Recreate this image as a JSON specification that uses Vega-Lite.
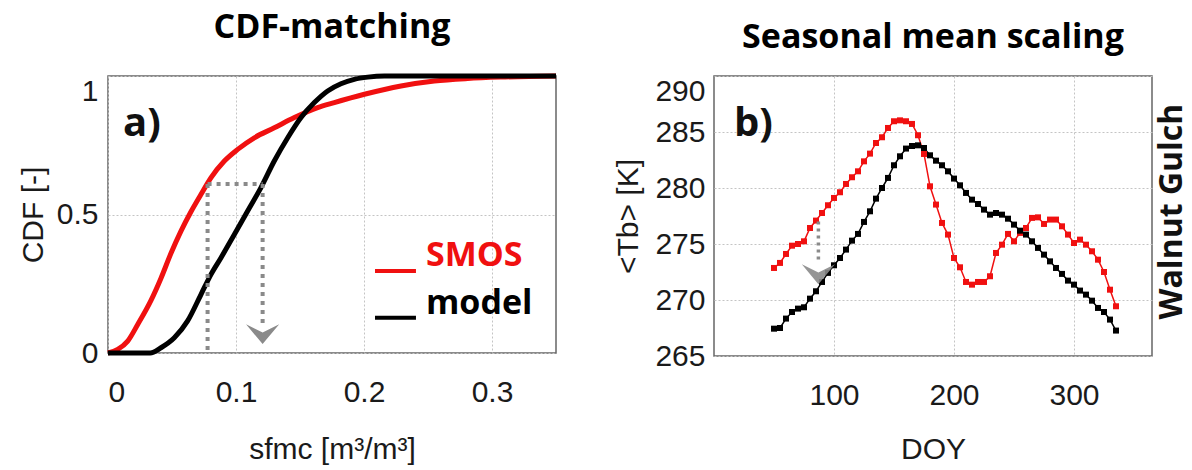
{
  "$schema": "https://vega.github.io/schema/vega-lite/v6.json",
  "background": "white",
  "padding": {"left": 17, "top": 10, "right": 0, "bottom": 0},
  "spacing": 45,
  "config": {
    "view": {"stroke": "#666666", "strokeWidth": 1.5},
    "axis": {
      "labelFont": "Liberation Sans", "labelFontSize": 30, "labelColor": "#1a1a1a",
      "titleFont": "Liberation Sans", "titleFontSize": 30, "titleFontWeight": "normal", "titleColor": "#1a1a1a",
      "domain": false, "ticks": false, "grid": true,
      "gridColor": "#c4c4c4", "gridDash": [2, 2], "gridWidth": 1
    },
    "title": {"font": "Open Sans", "fontSize": 34, "fontWeight": "bold", "color": "#000000", "offset": 21, "anchor": "middle"}
  },
  "datasets": {
    "cdf": [
      {"x": 0, "y": 0, "series": "SMOS"},
      {"x": 0.0076, "y": 0.013, "series": "SMOS"},
      {"x": 0.0154, "y": 0.043, "series": "SMOS"},
      {"x": 0.0232, "y": 0.103, "series": "SMOS"},
      {"x": 0.0336, "y": 0.19, "series": "SMOS"},
      {"x": 0.0414, "y": 0.27, "series": "SMOS"},
      {"x": 0.0492, "y": 0.36, "series": "SMOS"},
      {"x": 0.057, "y": 0.44, "series": "SMOS"},
      {"x": 0.0648, "y": 0.51, "series": "SMOS"},
      {"x": 0.0727, "y": 0.573, "series": "SMOS"},
      {"x": 0.0805, "y": 0.633, "series": "SMOS"},
      {"x": 0.0909, "y": 0.693, "series": "SMOS"},
      {"x": 0.1013, "y": 0.735, "series": "SMOS"},
      {"x": 0.1143, "y": 0.777, "series": "SMOS"},
      {"x": 0.1299, "y": 0.813, "series": "SMOS"},
      {"x": 0.1456, "y": 0.85, "series": "SMOS"},
      {"x": 0.1638, "y": 0.886, "series": "SMOS"},
      {"x": 0.1768, "y": 0.904, "series": "SMOS"},
      {"x": 0.2003, "y": 0.934, "series": "SMOS"},
      {"x": 0.2289, "y": 0.964, "series": "SMOS"},
      {"x": 0.2549, "y": 0.982, "series": "SMOS"},
      {"x": 0.281, "y": 0.991, "series": "SMOS"},
      {"x": 0.307, "y": 0.996, "series": "SMOS"},
      {"x": 0.35, "y": 1.0, "series": "SMOS"},
      {"x": 0, "y": 0, "series": "model"},
      {"x": 0.033, "y": 0, "series": "model"},
      {"x": 0.0414, "y": 0.019, "series": "model"},
      {"x": 0.0518, "y": 0.055, "series": "model"},
      {"x": 0.0622, "y": 0.116, "series": "model"},
      {"x": 0.0727, "y": 0.212, "series": "model"},
      {"x": 0.0805, "y": 0.284, "series": "model"},
      {"x": 0.0883, "y": 0.344, "series": "model"},
      {"x": 0.0987, "y": 0.428, "series": "model"},
      {"x": 0.1091, "y": 0.513, "series": "model"},
      {"x": 0.1195, "y": 0.597, "series": "model"},
      {"x": 0.1299, "y": 0.693, "series": "model"},
      {"x": 0.1404, "y": 0.777, "series": "model"},
      {"x": 0.1508, "y": 0.85, "series": "model"},
      {"x": 0.1612, "y": 0.904, "series": "model"},
      {"x": 0.1716, "y": 0.946, "series": "model"},
      {"x": 0.182, "y": 0.972, "series": "model"},
      {"x": 0.1924, "y": 0.988, "series": "model"},
      {"x": 0.2029, "y": 0.996, "series": "model"},
      {"x": 0.216, "y": 1.0, "series": "model"},
      {"x": 0.35, "y": 1.0, "series": "model"}
    ],
    "cdfArrows": [
      {"x": 0.0778, "y": 0.61, "x2": 0.1208, "y2": 0.61},
      {"x": 0.0778, "y": 0.61, "x2": 0.0778, "y2": 0},
      {"x": 0.1208, "y": 0.61, "x2": 0.1208, "y2": 0.09}
    ],
    "cdfHead": [{"x": 0.1208, "y": 0.068}],
    "cdfLabel": [{"x": 0.0117, "y": 0.783, "label": "a)"}],
    "cdfLegendLines": [
      {"x": 0.2086, "x2": 0.2406, "y": 0.296, "series": "SMOS"},
      {"x": 0.2086, "x2": 0.2406, "y": 0.127, "series": "model"}
    ],
    "cdfLegendText": [
      {"x": 0.2484, "y": 0.314, "label": "SMOS", "series": "SMOS"},
      {"x": 0.2484, "y": 0.141, "label": "model", "series": "model"}
    ],
    "tb": [
      {"doy": 50, "tb": 272.86, "series": "SMOS"},
      {"doy": 55, "tb": 273.31, "series": "SMOS"},
      {"doy": 60, "tb": 274.11, "series": "SMOS"},
      {"doy": 65, "tb": 274.85, "series": "SMOS"},
      {"doy": 70, "tb": 275.0, "series": "SMOS"},
      {"doy": 75, "tb": 275.24, "series": "SMOS"},
      {"doy": 80, "tb": 276.43, "series": "SMOS"},
      {"doy": 85, "tb": 277.09, "series": "SMOS"},
      {"doy": 90, "tb": 277.77, "series": "SMOS"},
      {"doy": 95, "tb": 278.46, "series": "SMOS"},
      {"doy": 100, "tb": 279.11, "series": "SMOS"},
      {"doy": 105, "tb": 279.62, "series": "SMOS"},
      {"doy": 110, "tb": 280.36, "series": "SMOS"},
      {"doy": 115, "tb": 280.96, "series": "SMOS"},
      {"doy": 120, "tb": 281.49, "series": "SMOS"},
      {"doy": 125, "tb": 282.38, "series": "SMOS"},
      {"doy": 130, "tb": 283.07, "series": "SMOS"},
      {"doy": 135, "tb": 284.02, "series": "SMOS"},
      {"doy": 140, "tb": 284.53, "series": "SMOS"},
      {"doy": 145, "tb": 285.36, "series": "SMOS"},
      {"doy": 150, "tb": 285.96, "series": "SMOS"},
      {"doy": 155, "tb": 286.04, "series": "SMOS"},
      {"doy": 160, "tb": 285.96, "series": "SMOS"},
      {"doy": 165, "tb": 285.72, "series": "SMOS"},
      {"doy": 170, "tb": 284.71, "series": "SMOS"},
      {"doy": 175, "tb": 283.04, "series": "SMOS"},
      {"doy": 180, "tb": 280.15, "series": "SMOS"},
      {"doy": 185, "tb": 278.52, "series": "SMOS"},
      {"doy": 190, "tb": 276.88, "series": "SMOS"},
      {"doy": 195, "tb": 275.84, "series": "SMOS"},
      {"doy": 200, "tb": 273.75, "series": "SMOS"},
      {"doy": 205, "tb": 272.92, "series": "SMOS"},
      {"doy": 210, "tb": 271.61, "series": "SMOS"},
      {"doy": 215, "tb": 271.37, "series": "SMOS"},
      {"doy": 220, "tb": 271.61, "series": "SMOS"},
      {"doy": 225, "tb": 271.61, "series": "SMOS"},
      {"doy": 230, "tb": 272.12, "series": "SMOS"},
      {"doy": 235, "tb": 274.2, "series": "SMOS"},
      {"doy": 240, "tb": 274.94, "series": "SMOS"},
      {"doy": 245, "tb": 275.9, "series": "SMOS"},
      {"doy": 250, "tb": 275.24, "series": "SMOS"},
      {"doy": 255, "tb": 275.99, "series": "SMOS"},
      {"doy": 260, "tb": 276.43, "series": "SMOS"},
      {"doy": 265, "tb": 277.33, "series": "SMOS"},
      {"doy": 270, "tb": 277.38, "series": "SMOS"},
      {"doy": 275, "tb": 276.79, "series": "SMOS"},
      {"doy": 280, "tb": 277.18, "series": "SMOS"},
      {"doy": 285, "tb": 277.18, "series": "SMOS"},
      {"doy": 290, "tb": 276.58, "series": "SMOS"},
      {"doy": 295, "tb": 275.84, "series": "SMOS"},
      {"doy": 300, "tb": 275.09, "series": "SMOS"},
      {"doy": 305, "tb": 275.39, "series": "SMOS"},
      {"doy": 310, "tb": 274.94, "series": "SMOS"},
      {"doy": 315, "tb": 274.35, "series": "SMOS"},
      {"doy": 320, "tb": 273.6, "series": "SMOS"},
      {"doy": 325, "tb": 272.5, "series": "SMOS"},
      {"doy": 330, "tb": 270.92, "series": "SMOS"},
      {"doy": 335, "tb": 269.44, "series": "SMOS"},
      {"doy": 50, "tb": 267.44, "series": "model"},
      {"doy": 55, "tb": 267.5, "series": "model"},
      {"doy": 60, "tb": 268.34, "series": "model"},
      {"doy": 65, "tb": 268.93, "series": "model"},
      {"doy": 70, "tb": 269.23, "series": "model"},
      {"doy": 75, "tb": 269.35, "series": "model"},
      {"doy": 80, "tb": 270.12, "series": "model"},
      {"doy": 85, "tb": 270.78, "series": "model"},
      {"doy": 90, "tb": 271.61, "series": "model"},
      {"doy": 95, "tb": 272.42, "series": "model"},
      {"doy": 100, "tb": 273.1, "series": "model"},
      {"doy": 105, "tb": 273.75, "series": "model"},
      {"doy": 110, "tb": 274.5, "series": "model"},
      {"doy": 115, "tb": 275.3, "series": "model"},
      {"doy": 120, "tb": 275.9, "series": "model"},
      {"doy": 125, "tb": 276.97, "series": "model"},
      {"doy": 130, "tb": 277.92, "series": "model"},
      {"doy": 135, "tb": 279.05, "series": "model"},
      {"doy": 140, "tb": 280.0, "series": "model"},
      {"doy": 145, "tb": 280.9, "series": "model"},
      {"doy": 150, "tb": 282.03, "series": "model"},
      {"doy": 155, "tb": 282.83, "series": "model"},
      {"doy": 160, "tb": 283.52, "series": "model"},
      {"doy": 165, "tb": 283.75, "series": "model"},
      {"doy": 170, "tb": 283.81, "series": "model"},
      {"doy": 175, "tb": 283.57, "series": "model"},
      {"doy": 180, "tb": 282.92, "series": "model"},
      {"doy": 185, "tb": 282.44, "series": "model"},
      {"doy": 190, "tb": 282.03, "series": "model"},
      {"doy": 195, "tb": 281.49, "series": "model"},
      {"doy": 200, "tb": 280.84, "series": "model"},
      {"doy": 205, "tb": 280.24, "series": "model"},
      {"doy": 210, "tb": 279.56, "series": "model"},
      {"doy": 215, "tb": 278.96, "series": "model"},
      {"doy": 220, "tb": 278.57, "series": "model"},
      {"doy": 225, "tb": 278.07, "series": "model"},
      {"doy": 230, "tb": 277.62, "series": "model"},
      {"doy": 235, "tb": 277.77, "series": "model"},
      {"doy": 240, "tb": 277.62, "series": "model"},
      {"doy": 245, "tb": 277.26, "series": "model"},
      {"doy": 250, "tb": 276.73, "series": "model"},
      {"doy": 255, "tb": 276.19, "series": "model"},
      {"doy": 260, "tb": 275.84, "series": "model"},
      {"doy": 265, "tb": 275.24, "series": "model"},
      {"doy": 270, "tb": 274.65, "series": "model"},
      {"doy": 275, "tb": 274.05, "series": "model"},
      {"doy": 280, "tb": 273.45, "series": "model"},
      {"doy": 285, "tb": 272.86, "series": "model"},
      {"doy": 290, "tb": 272.33, "series": "model"},
      {"doy": 295, "tb": 271.73, "series": "model"},
      {"doy": 300, "tb": 271.37, "series": "model"},
      {"doy": 305, "tb": 270.84, "series": "model"},
      {"doy": 310, "tb": 270.48, "series": "model"},
      {"doy": 315, "tb": 269.94, "series": "model"},
      {"doy": 320, "tb": 269.29, "series": "model"},
      {"doy": 325, "tb": 268.93, "series": "model"},
      {"doy": 330, "tb": 268.25, "series": "model"},
      {"doy": 335, "tb": 267.27, "series": "model"}
    ],
    "tbArrow": [{"doy": 87, "tb": 277.0, "doy2": 87, "tb2": 273.4}],
    "tbHead": [{"doy": 87, "tb": 272.3}],
    "tbLabel": [{"doy": 16.6, "tb": 284.6, "label": "b)"}],
    "site": [{"doy": 381.5, "tb": 277.9, "label": "Walnut Gulch"}]
  },
  "hconcat": [
    {
      "width": 448,
      "height": 277,
      "title": "CDF-matching",
      "encoding": {
        "x": {
          "field": "x", "type": "quantitative",
          "scale": {"domain": [0, 0.35], "nice": false, "zero": false},
          "axis": {"values": [0, 0.1, 0.2, 0.3], "labelExpr": "datum.value", "labelPadding": 24, "title": "sfmc [m³/m³]", "titlePadding": 27}
        },
        "y": {
          "field": "y", "type": "quantitative",
          "scale": {"domain": [0, 1], "nice": false, "zero": false},
          "axis": {
            "values": [0, 0.5, 1], "labelExpr": "datum.value", "labelPadding": 10,
            "minExtent": 52, "maxExtent": 52, "titlePadding": 8, "title": "CDF [-]",
            "labelBaseline": {"condition": {"test": "datum.value == 1", "value": "top"}, "value": "middle"}
          }
        }
      },
      "layer": [
        {
          "data": {"name": "cdf"},
          "mark": {"type": "line", "strokeWidth": 5, "interpolate": "monotone"},
          "encoding": {
            "color": {"field": "series", "type": "nominal", "scale": {"domain": ["SMOS", "model"], "range": ["#f01010", "#000000"]}, "legend": null}
          }
        },
        {
          "data": {"name": "cdfArrows"},
          "mark": {"type": "rule", "color": "#8a8a8a", "strokeWidth": 4, "strokeDash": [4, 5]},
          "encoding": {"x2": {"field": "x2"}, "y2": {"field": "y2"}}
        },
        {
          "data": {"name": "cdfHead"},
          "mark": {"type": "point", "shape": "M-1,-0.6L0,0.6L1,-0.6L0,-0.1Z", "size": 1100, "filled": true, "color": "#8a8a8a", "opacity": 1, "strokeWidth": 0}
        },
        {
          "data": {"name": "cdfLabel"},
          "mark": {"type": "text", "font": "Open Sans", "fontWeight": "bold", "fontSize": 40, "align": "left", "baseline": "alphabetic", "color": "#111111"},
          "encoding": {"text": {"field": "label"}}
        },
        {
          "data": {"name": "cdfLegendLines"},
          "mark": {"type": "rule", "strokeWidth": 4},
          "encoding": {
            "x2": {"field": "x2"},
            "color": {"field": "series", "type": "nominal", "scale": {"domain": ["SMOS", "model"], "range": ["#f01010", "#000000"]}, "legend": null}
          }
        },
        {
          "data": {"name": "cdfLegendText"},
          "mark": {"type": "text", "font": "Open Sans", "fontWeight": "bold", "fontSize": 34, "align": "left", "baseline": "alphabetic"},
          "encoding": {
            "text": {"field": "label"},
            "color": {"field": "series", "type": "nominal", "scale": {"domain": ["SMOS", "model"], "range": ["#f01010", "#000000"]}, "legend": null}
          }
        }
      ]
    },
    {
      "width": 438,
      "height": 280,
      "title": "Seasonal mean scaling",
      "encoding": {
        "x": {
          "field": "doy", "type": "quantitative",
          "scale": {"domain": [0, 365], "nice": false, "zero": false},
          "axis": {"values": [100, 200, 300], "labelPadding": 24, "title": "DOY", "titlePadding": 24}
        },
        "y": {
          "field": "tb", "type": "quantitative",
          "scale": {"domain": [265, 290], "nice": false, "zero": false},
          "axis": {
            "values": [265, 270, 275, 280, 285, 290], "labelPadding": 9,
            "minExtent": 59, "maxExtent": 59, "titlePadding": 12, "title": "<Tb> [K]",
            "labelBaseline": {"condition": {"test": "datum.value == 290", "value": "top"}, "value": "middle"}
          }
        }
      },
      "layer": [
        {
          "data": {"name": "tb"},
          "mark": {"type": "line", "strokeWidth": 1.5, "point": {"shape": "square", "size": 36, "filled": true}},
          "encoding": {
            "color": {"field": "series", "type": "nominal", "scale": {"domain": ["SMOS", "model"], "range": ["#f01010", "#000000"]}, "legend": null}
          }
        },
        {
          "data": {"name": "tbArrow"},
          "mark": {"type": "rule", "color": "#8a8a8a", "strokeWidth": 3.5, "strokeDash": [3, 4]},
          "encoding": {"x2": {"field": "doy2"}, "y2": {"field": "tb2"}}
        },
        {
          "data": {"name": "tbHead"},
          "mark": {"type": "point", "shape": "M-1,-0.6L0,0.6L1,-0.6L0,-0.1Z", "size": 1100, "filled": true, "color": "#8a8a8a", "opacity": 0.9, "strokeWidth": 0}
        },
        {
          "data": {"name": "tbLabel"},
          "mark": {"type": "text", "font": "Open Sans", "fontWeight": "bold", "fontSize": 40, "align": "left", "baseline": "alphabetic", "color": "#111111"},
          "encoding": {"text": {"field": "label"}}
        },
        {
          "data": {"name": "site"},
          "mark": {"type": "text", "font": "Open Sans", "fontWeight": "bold", "fontSize": 32, "align": "center", "baseline": "middle", "angle": 270, "color": "#111111"},
          "encoding": {"text": {"field": "label"}}
        }
      ]
    }
  ]
}
